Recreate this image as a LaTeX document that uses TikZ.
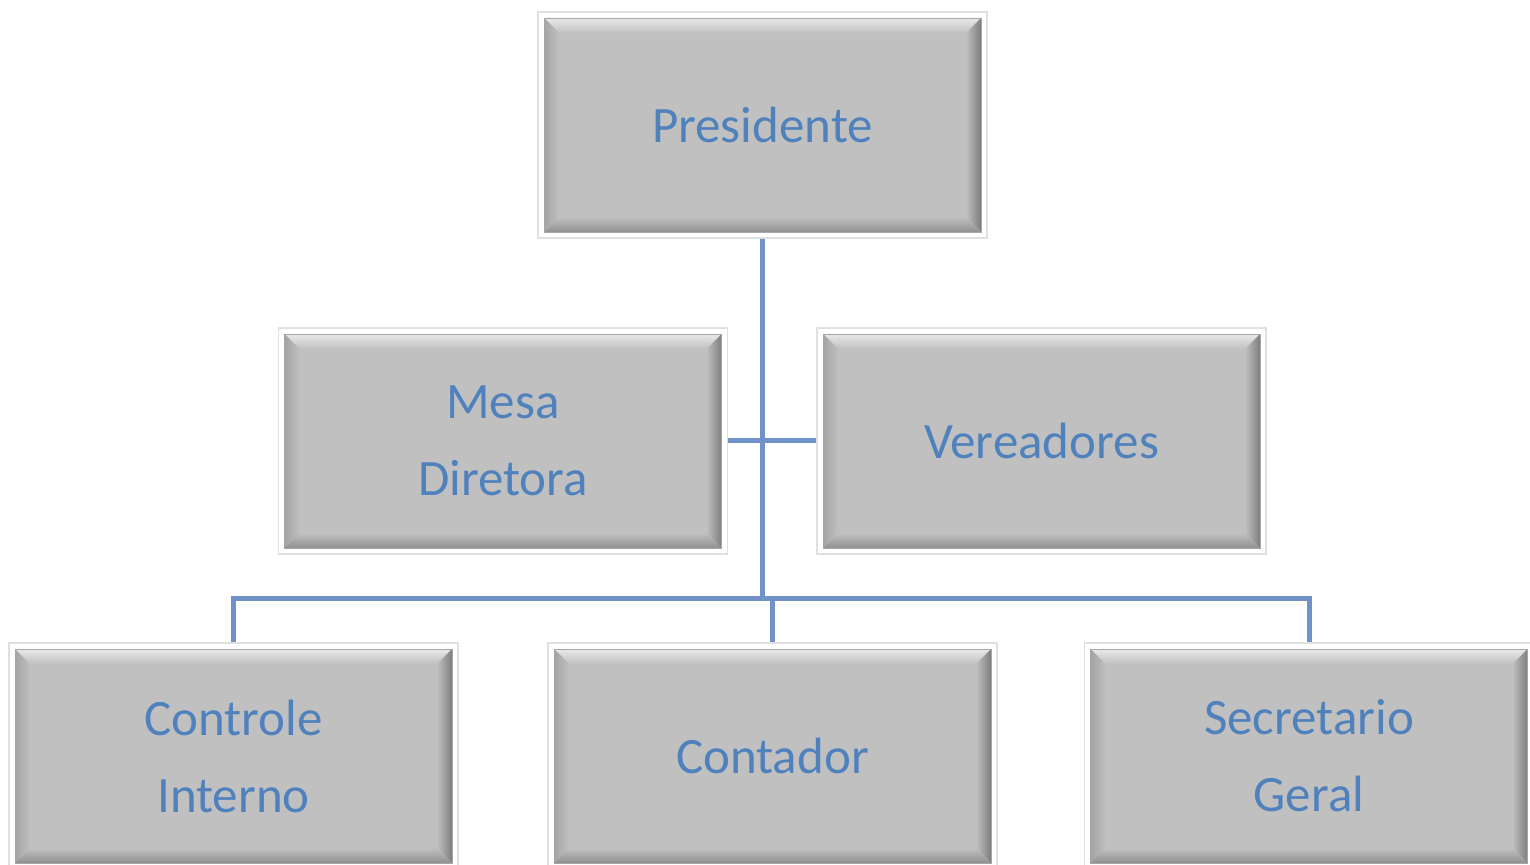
\documentclass[tikz,border=0pt]{standalone}
\usepackage{fontspec}
\setmainfont{Carlito}
\definecolor{txtblue}{RGB}{79,129,189}
\definecolor{lineblue}{RGB}{112,146,200}
\definecolor{boxgray}{RGB}{192,192,192}
\tikzset{
  orgbox/.style={rectangle, minimum width=224.5pt, minimum height=113pt,
    inner sep=0pt, fill=white, draw=black!12, line width=0.6pt,
    text=txtblue, font=\fontsize{25.5}{38.5}\selectfont, align=center,
    path picture={
      \coordinate (bxa) at ([shift={(3pt,3pt)}]path picture bounding box.south west);
      \coordinate (bxc) at ([shift={(-3pt,-3pt)}]path picture bounding box.north east);
      \coordinate (bxb) at (bxc|-bxa);
      \coordinate (bxd) at (bxa|-bxc);
      \fill[boxgray] (bxa) rectangle (bxc);
      \shade[top color=boxgray!35!white, bottom color=boxgray]
        (bxd) -- (bxc) -- ([shift={(-7.5pt,-7.5pt)}]bxc) -- ([shift={(7.5pt,-7.5pt)}]bxd) -- cycle;
      \shade[left color=boxgray!85!black, right color=boxgray]
        (bxa) -- (bxd) -- ([shift={(7.5pt,-7.5pt)}]bxd) -- ([shift={(7.5pt,7.5pt)}]bxa) -- cycle;
      \shade[left color=boxgray, right color=boxgray!65!black]
        (bxb) -- (bxc) -- ([shift={(-7.5pt,-7.5pt)}]bxc) -- ([shift={(-7.5pt,7.5pt)}]bxb) -- cycle;
      \shade[top color=boxgray, bottom color=boxgray!75!black]
        (bxa) -- (bxb) -- ([shift={(-7.5pt,7.5pt)}]bxb) -- ([shift={(7.5pt,7.5pt)}]bxa) -- cycle;
      \draw[black!35, line width=0.4pt] (bxa) rectangle (bxc);
    }},
  conn/.style={draw=lineblue, line width=2.5pt}
}
\begin{document}
\begin{tikzpicture}[x=0.5pt, y=-0.5pt]
\useasboundingbox (0,0) rectangle (1530,865);
\coordinate (hub) at (762.5,598);
\node[orgbox] (pres) at (762.5,125) {Presidente};
\node[orgbox] (mesa) at (503,441) {Mesa\\Diretora};
\node[orgbox] (ver) at (1041.5,441) {Vereadores};
\node[orgbox] (ci) at (233.5,756) {Controle\\Interno};
\node[orgbox] (ct) at (772.5,756) {Contador};
\node[orgbox] (sg) at (1309,756) {Secretario\\Geral};
\draw[conn] (pres.south) -- (hub);
\draw[conn] (mesa.east) -- (ver.west);
\draw[conn] (ci.north) -- (ci.north |- hub) -- (sg.north |- hub) -- (sg.north);
\draw[conn] (ct.north) -- (ct.north |- hub);
\end{tikzpicture}
\end{document}
